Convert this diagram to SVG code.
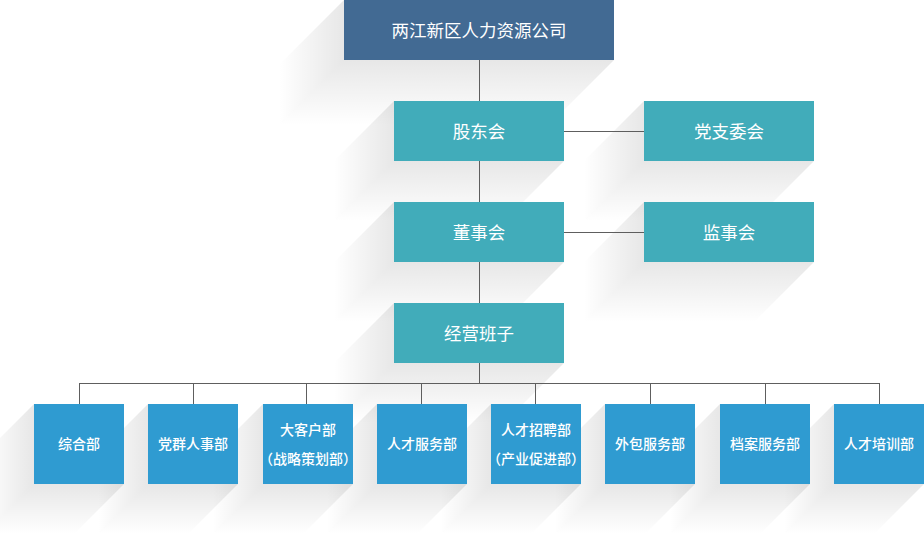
<svg xmlns="http://www.w3.org/2000/svg" width="924" height="534" viewBox="0 0 924 534">
<defs>
<linearGradient id="shL" x1="1" y1="0" x2="0" y2="0">
<stop offset="0" stop-color="#000" stop-opacity="0.095"/>
<stop offset="1" stop-color="#000" stop-opacity="0"/>
</linearGradient>
<linearGradient id="shB" x1="0" y1="0" x2="0" y2="1">
<stop offset="0" stop-color="#000" stop-opacity="0.095"/>
<stop offset="1" stop-color="#000" stop-opacity="0"/>
</linearGradient>
<style>
.t{font-family:"Noto Sans CJK SC","Noto Sans",sans-serif;fill:#fff;text-anchor:middle;dominant-baseline:central}
.big{font-size:17.5px}
.sm{font-size:14px;font-weight:500}
.top{fill:#426a93}
.teal{fill:#41acba}
.blue{fill:#2f9bd1}
.ln{stroke:#5e5e5e;stroke-width:1;fill:none}
.sl{fill:url(#shL)}
.sb{fill:url(#shB)}
</style>
</defs>
<rect width="924" height="534" fill="#fff"/>
<g id="shadows">
<polygon class="sl" points="344,0 344,60 279,125 279,65"/>
<polygon class="sb" points="344,60 614,60 549,125 279,125"/>
<polygon class="sl" points="394,101 394,161 334,221 334,161"/>
<polygon class="sb" points="394,161 564,161 504,221 334,221"/>
<polygon class="sl" points="644,101 644,161 584,221 584,161"/>
<polygon class="sb" points="644,161 814,161 754,221 584,221"/>
<polygon class="sl" points="394,202 394,262 334,322 334,262"/>
<polygon class="sb" points="394,262 564,262 504,322 334,322"/>
<polygon class="sl" points="644,202 644,262 584,322 584,262"/>
<polygon class="sb" points="644,262 814,262 754,322 584,322"/>
<polygon class="sl" points="394,303 394,363 334,423 334,363"/>
<polygon class="sb" points="394,363 564,363 504,423 334,423"/>
<polygon class="sl" points="34,404 34,484 -16,534 -16,454"/>
<polygon class="sb" points="34,484 124,484 74,534 -16,534"/>
<polygon class="sl" points="148,404 148,484 98,534 98,454"/>
<polygon class="sb" points="148,484 238,484 188,534 98,534"/>
<polygon class="sl" points="263,404 263,484 213,534 213,454"/>
<polygon class="sb" points="263,484 353,484 303,534 213,534"/>
<polygon class="sl" points="377,404 377,484 327,534 327,454"/>
<polygon class="sb" points="377,484 467,484 417,534 327,534"/>
<polygon class="sl" points="491,404 491,484 441,534 441,454"/>
<polygon class="sb" points="491,484 581,484 531,534 441,534"/>
<polygon class="sl" points="605,404 605,484 555,534 555,454"/>
<polygon class="sb" points="605,484 695,484 645,534 555,534"/>
<polygon class="sl" points="720,404 720,484 670,534 670,454"/>
<polygon class="sb" points="720,484 810,484 760,534 670,534"/>
<polygon class="sl" points="834,404 834,484 784,534 784,454"/>
<polygon class="sb" points="834,484 924,484 874,534 784,534"/>
</g>
<g id="connectors">
<path class="ln" d="M479.5,60V101M479.5,161V202M479.5,262V303M479.5,363V383M564,131.5H644M564,232.5H644"/>
<path class="ln" d="M79.5,383.5H879.5M79.5,383V404M193.5,383V404M306.5,383V404M421.5,383V404M535.5,383V404M650.5,383V404M765.5,383V404M879.5,383V404"/>
</g>
<g id="company"><rect class="top" x="344" y="0" width="270" height="60"/><text class="t big" x="479" y="29">两江新区人力资源公司</text></g>
<g id="shareholders"><rect class="teal" x="394" y="101" width="170" height="60"/><text class="t big" x="479" y="130">股东会</text></g>
<g id="party-committee"><rect class="teal" x="644" y="101" width="170" height="60"/><text class="t big" x="729" y="130">党支委会</text></g>
<g id="board"><rect class="teal" x="394" y="202" width="170" height="60"/><text class="t big" x="479" y="231">董事会</text></g>
<g id="supervisors"><rect class="teal" x="644" y="202" width="170" height="60"/><text class="t big" x="729" y="231">监事会</text></g>
<g id="management"><rect class="teal" x="394" y="303" width="170" height="60"/><text class="t big" x="479" y="332">经营班子</text></g>
<g id="dept1"><rect class="blue" x="34" y="404" width="90" height="80"/><text class="t sm" x="79" y="443">综合部</text></g>
<g id="dept2"><rect class="blue" x="148" y="404" width="90" height="80"/><text class="t sm" x="193" y="443">党群人事部</text></g>
<g id="dept3"><rect class="blue" x="263" y="404" width="90" height="80"/><text class="t sm" x="308" y="429">大客户部</text><text class="t sm" x="308" y="458">（战略策划部）</text></g>
<g id="dept4"><rect class="blue" x="377" y="404" width="90" height="80"/><text class="t sm" x="422" y="443">人才服务部</text></g>
<g id="dept5"><rect class="blue" x="491" y="404" width="90" height="80"/><text class="t sm" x="536" y="429">人才招聘部</text><text class="t sm" x="536" y="458">（产业促进部）</text></g>
<g id="dept6"><rect class="blue" x="605" y="404" width="90" height="80"/><text class="t sm" x="650" y="443">外包服务部</text></g>
<g id="dept7"><rect class="blue" x="720" y="404" width="90" height="80"/><text class="t sm" x="765" y="443">档案服务部</text></g>
<g id="dept8"><rect class="blue" x="834" y="404" width="90" height="80"/><text class="t sm" x="879" y="443">人才培训部</text></g>
</svg>
